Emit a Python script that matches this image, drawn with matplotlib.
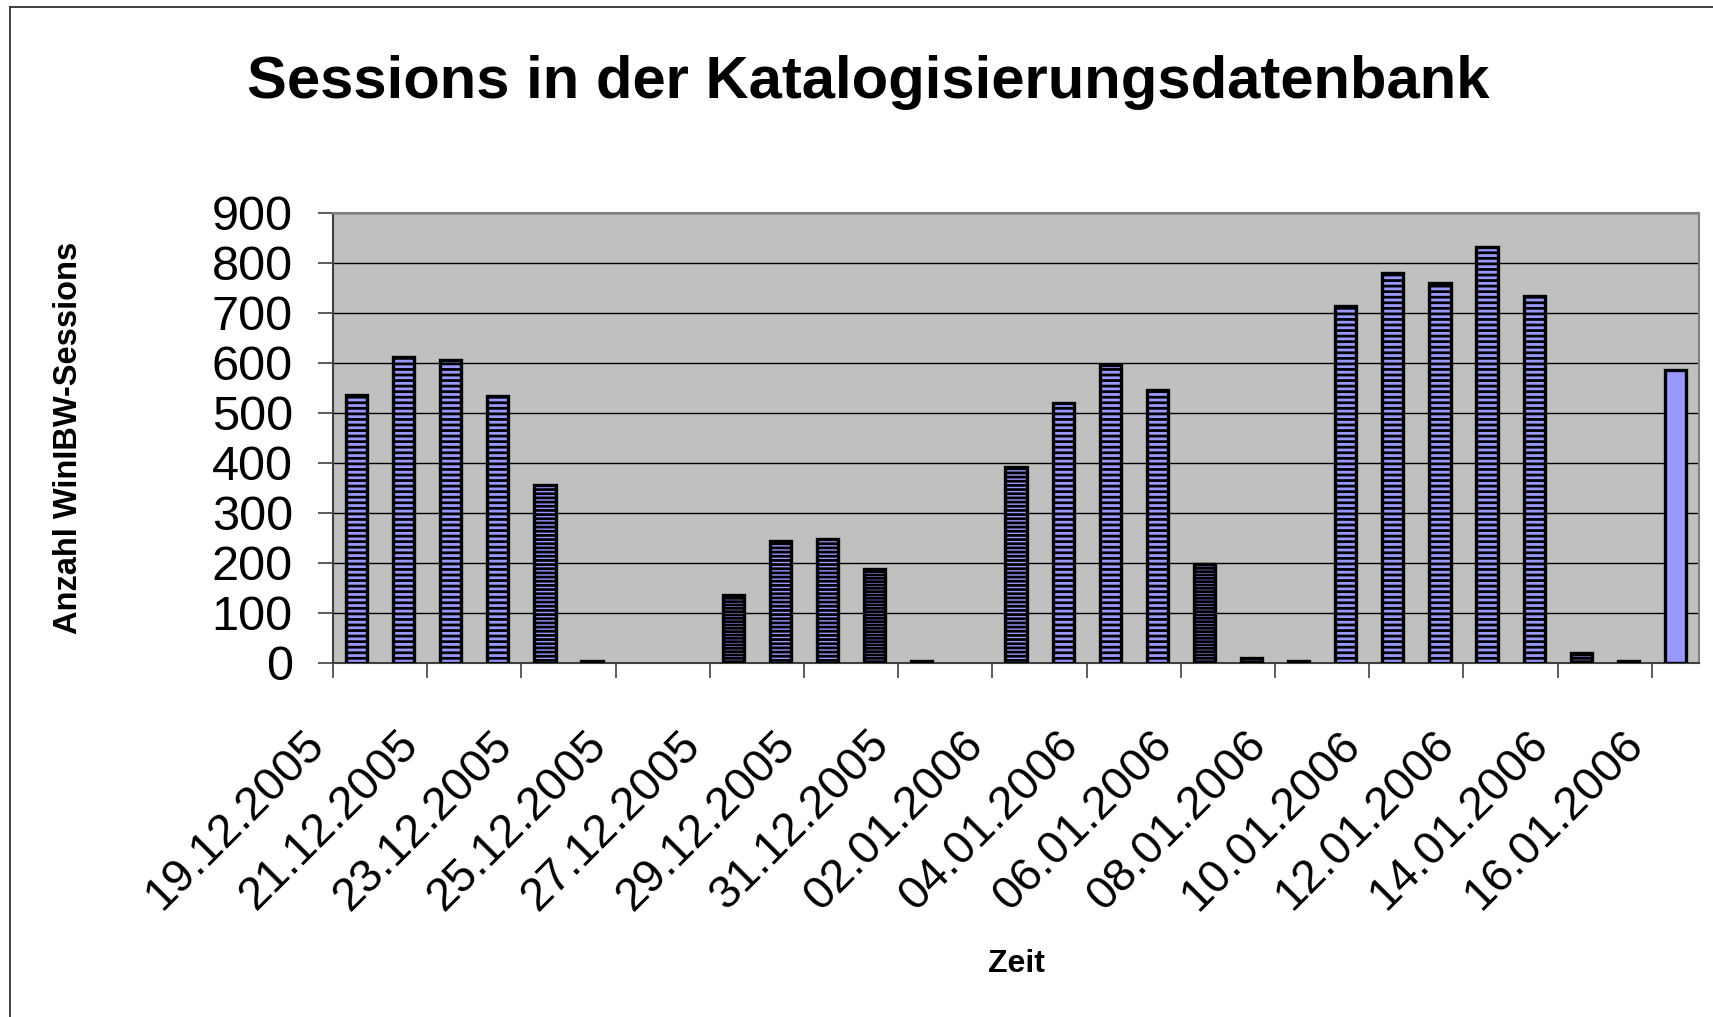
import matplotlib.pyplot as plt
from matplotlib.lines import Line2D

# days 19.12.2005 .. 16.01.2006, one bar per day
days = ["19.12.2005", "20.12.2005", "21.12.2005", "22.12.2005", "23.12.2005",
        "24.12.2005", "25.12.2005", "26.12.2005", "27.12.2005", "28.12.2005",
        "29.12.2005", "30.12.2005", "31.12.2005", "01.01.2006", "02.01.2006",
        "03.01.2006", "04.01.2006", "05.01.2006", "06.01.2006", "07.01.2006",
        "08.01.2006", "09.01.2006", "10.01.2006", "11.01.2006", "12.01.2006",
        "13.01.2006", "14.01.2006", "15.01.2006", "16.01.2006"]
sessions = [536, 612, 607, 535, 356, 5, 0, 0, 136, 244, 249, 188, 4, 0, 393,
            520, 597, 546, 199, 10, 5, 714, 780, 760, 832, 734, 20, 5, 586]

# stripe look per bar (denser = darker bar), last day is plain
stripes = ["---", "---", "---", "---", "----", "-----", "", "", "-----", "----",
           "----", "-----", "-----", "", "----", "---", "---", "---", "-----",
           "-----", "-----", "---", "---", "---", "---", "---", "-----", "-----", ""]

plt.rcParams["font.family"] = ["Liberation Sans", "DejaVu Sans"]
plt.rcParams["hatch.linewidth"] = 2.0

W, H = 1713, 1017
fig = plt.figure(figsize=(W / 100, H / 100), dpi=100)
ax = fig.add_axes([333 / W, 1 - 663 / H, (1699 - 333) / W, (663 - 213) / H])
ax.set_facecolor("#C0C0C0")

x = [i + 0.5 for i in range(len(days))]
bars = ax.bar(x, sessions, width=0.45, color="#9999FF", edgecolor="black",
              linewidth=2.4, zorder=3)
for b, h, s in zip(bars, sessions, stripes):
    if h == 0:
        b.set_visible(False)
    b.set_hatch(s)

ax.set_xlim(0, len(days))
ax.set_ylim(0, 900)
ax.set_yticks(range(0, 901, 100))
ax.yaxis.grid(True, color="black", linewidth=1.0, zorder=1)
ax.set_axisbelow(True)

ax.set_xticks(range(0, len(days), 2))
ax.set_xticklabels(days[::2], rotation=45, ha="right", va="top",
                   rotation_mode="default")
ax.tick_params(axis="x", length=11, width=1.2, color="#404040", pad=32,
               labelsize=33.5)
ax.tick_params(axis="y", length=11, width=1.2, color="#404040", pad=18,
               labelsize=35)

for side in ["top", "right"]:
    ax.spines[side].set_color("#808080")
    ax.spines[side].set_linewidth(1.5)
for side in ["left", "bottom"]:
    ax.spines[side].set_color("#404040")
    ax.spines[side].set_linewidth(1.5)

fig.text(868 / W, 1 - 98 / H, "Sessions in der Katalogisierungsdatenbank",
         ha="center", va="baseline", fontsize=43, fontweight="bold")
fig.text(1016 / W, 1 - 972 / H, "Zeit", ha="center", va="baseline",
         fontsize=23, fontweight="bold")
fig.text(69 / W, 1 - 438 / H, "Anzahl WinIBW-Sessions", rotation=90,
         ha="center", va="center", fontsize=23.5, fontweight="bold")

# chart frame (left and top edges visible)
fig.add_artist(Line2D([10 / W, 10 / W], [0, 1 - 7 / H], color="#303030", lw=1.3))
fig.add_artist(Line2D([10 / W, 1], [1 - 7 / H, 1 - 7 / H], color="#303030", lw=1.3))

fig.savefig("out.png", dpi=100)
